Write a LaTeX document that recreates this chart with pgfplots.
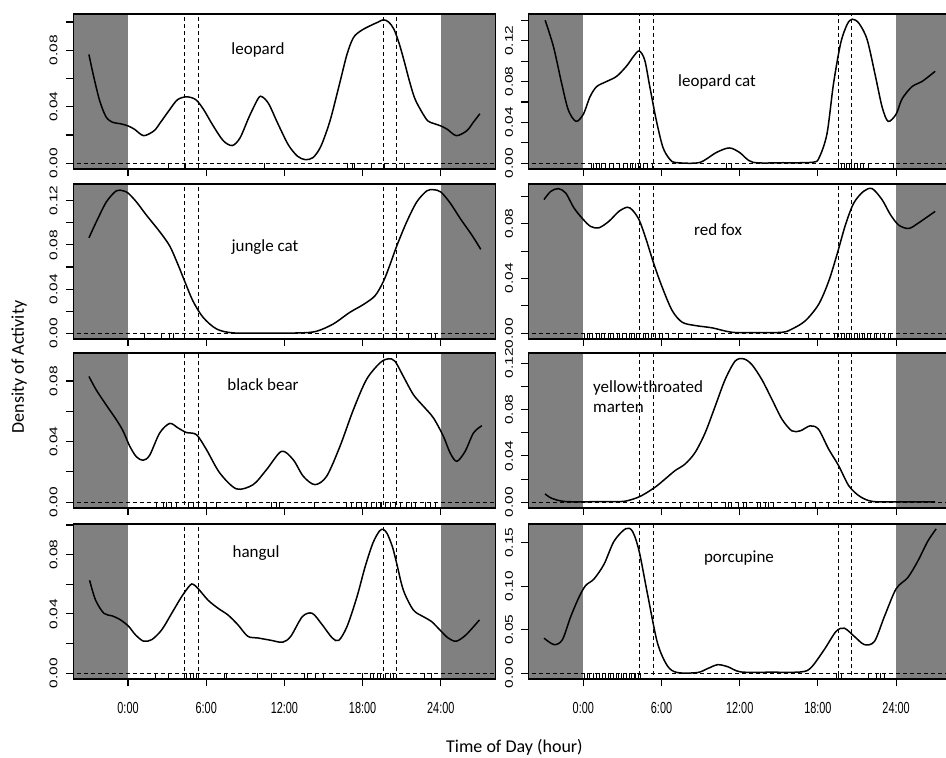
\documentclass[border=0pt]{standalone}
\usepackage{fontspec}
\usepackage{graphicx}
\usepackage{pgfplots}
\pgfplotsset{compat=1.18}
\newfontfamily\tf{Liberation Sans}
\newfontfamily\tfx[FakeStretch=0.68]{Liberation Sans}
\newfontfamily\calib{Carlito}
\definecolor{shade}{RGB}{128,128,128}
\newcommand\yl[1]{\scalebox{1}[0.72]{#1}}

\pgfplotsset{
  panel/.style={
    scale only axis, width=422.2pt, height=155pt,
    anchor=south west,
    xmin=-4.2, xmax=28.2,
    xtick={0,6,12,18,24}, xticklabels={},
    scaled y ticks=false, scaled x ticks=false,
    xtick align=outside, ytick align=outside,
    major tick length=7.5pt, minor tick length=7.5pt,
    xtick pos=bottom, ytick pos=left,
    every major tick/.append style={black, line width=1.1pt},
    every minor tick/.append style={black, line width=1.1pt},
    axis line style={line width=1.3pt},
    axis on top,
    yticklabel style={font=\tf\fontsize{15.5}{16}\selectfont, rotate=90, anchor=south, inner sep=0pt, yshift=8pt},
    xticklabel style={font=\tfx\fontsize{16}{17}\selectfont, inner sep=0pt, anchor=north, yshift=-16pt},
  },
  dens/.style={black, line width=1.5pt, smooth},
  rug/.style={only marks, mark=|, mark size=3pt, mark options={black, line width=0.8pt, yshift=-3pt}},
  vdash/.style={black, line width=1.2pt, dash pattern=on 4pt off 3pt},
}

% shaded night, sunrise/sunset lines, zero line
\newcommand\common{%
  \addplot[fill=shade, draw=none] coordinates {(-5,-1) (0,-1) (0,1) (-5,1)} -- cycle;
  \addplot[fill=shade, draw=none] coordinates {(24,-1) (30,-1) (30,1) (24,1)} -- cycle;
  \addplot[vdash] coordinates {(4.33,-1) (4.33,1)};
  \addplot[vdash] coordinates {(5.4,-1) (5.4,1)};
  \addplot[vdash] coordinates {(19.6,-1) (19.6,1)};
  \addplot[vdash] coordinates {(20.58,-1) (20.58,1)};
  \addplot[vdash] coordinates {(-5,0) (30,0)};
}

\begin{document}
\begin{tikzpicture}
\useasboundingbox (0,0) rectangle (946pt,758pt);
\clip (0,0) rectangle (946pt,758pt);

% ---- leopard
\begin{axis}[panel, at={(73.3pt,589pt)}, ymin=-0.0041, ymax=0.1057,
  ytick={0,0.04,0.08}, minor ytick={0.02,0.06,0.1},
  yticklabels={\yl{0.00},\yl{0.04},\yl{0.08}}]
\common
\addplot[dens] coordinates {
 (-3,0.077) (-2.7,0.064) (-2.2,0.045) (-1.7,0.033) (-1.2,0.029) (-0.6,0.028)
 (0,0.0264) (0.5,0.024) (1.2,0.0195) (2,0.023) (2.5,0.029) (3.2,0.038) (3.8,0.045)
 (4.5,0.047) (5.2,0.045) (5.8,0.038) (6.5,0.027) (7.3,0.016) (8.0,0.0125) (8.6,0.018)
 (9.3,0.033) (10.0,0.046) (10.3,0.047) (10.8,0.042) (11.5,0.028) (12.3,0.013)
 (13.0,0.005) (13.6,0.0025) (14.2,0.004) (14.8,0.012) (15.5,0.030) (16.2,0.055)
 (16.8,0.077) (17.3,0.089) (17.9,0.094) (18.5,0.097) (19.2,0.100) (19.6,0.1016)
 (20.0,0.100) (20.4,0.095) (20.8,0.085) (21.2,0.072) (21.6,0.058) (22.0,0.046)
 (22.5,0.037) (23.0,0.030) (23.5,0.028) (24,0.0264) (24.5,0.024) (25.2,0.0195)
 (26,0.023) (26.5,0.029) (27,0.035)};
\addplot[rug] coordinates {(3.07,0) (4.43,0) (10.43,0) (16.83,0) (17.2,0) (17.34,0)
 (18.7,0) (19.7,0) (21.18,0)};
\end{axis}

% ---- jungle cat
\begin{axis}[panel, at={(73.3pt,419pt)}, ymin=-0.0052, ymax=0.1352,
  ytick={0,0.04,0.08,0.12}, minor ytick={0.02,0.06,0.1},
  yticklabels={\yl{0.00},\yl{0.04},\yl{0.08},\yl{0.12}}]
\common
\addplot[dens] coordinates {
 (-3,0.0864) (-2.43,0.101) (-1.66,0.119) (-0.9,0.129) (-0.38,0.129) (0,0.127)
 (0.64,0.119) (1.41,0.107) (2.43,0.092) (3.2,0.079) (3.84,0.062) (4.35,0.047)
 (4.99,0.029) (5.76,0.0144) (6.79,0.0039) (8.07,0.0003) (10.5,0.0002) (13.2,0.0003)
 (14.47,0.0018) (15.75,0.0084) (17.03,0.019) (18.06,0.026) (18.96,0.034) (19.6,0.047)
 (20.1,0.062) (20.62,0.079) (21.39,0.101) (22.16,0.119) (22.93,0.129) (23.44,0.130)
 (24,0.128) (24.72,0.118) (25.49,0.104) (26.38,0.089) (27.07,0.076)};
\addplot[rug] coordinates {(1.28,0) (2.56,0) (3.2,0) (3.46,0) (20.6,0) (21.5,0) (23.3,0) (23.6,0)};
\end{axis}

% ---- black bear
\begin{axis}[panel, at={(73.3pt,250pt)}, ymin=-0.0038, ymax=0.0985,
  ytick={0,0.04,0.08}, minor ytick={0.02,0.06},
  yticklabels={\yl{0.00},\yl{0.04},\yl{0.08}}]
\common
\addplot[dens] coordinates {
 (-3,0.083) (-2.43,0.074) (-1.66,0.064) (-0.9,0.0545) (-0.38,0.047) (0.13,0.037)
 (0.64,0.030) (1.15,0.0277) (1.66,0.031) (2.43,0.0457) (3.2,0.052) (3.84,0.049)
 (4.48,0.046) (5.25,0.0446) (6.02,0.0347) (7.04,0.0193) (8.32,0.0088) (9.6,0.0116)
 (10.63,0.0215) (11.78,0.0336) (12.68,0.028) (13.45,0.0171) (14.34,0.0116)
 (15.24,0.0171) (16.27,0.037) (17.29,0.061) (18.3,0.081) (19.34,0.092) (19.98,0.0947)
 (20.49,0.093) (21.13,0.083) (21.9,0.071) (22.67,0.0633) (23.44,0.0556) (24.2,0.0435)
 (24.72,0.0325) (25.23,0.027) (25.87,0.0336) (26.51,0.0457) (27.15,0.0505)};
\addplot[rug] coordinates {(2.18,0) (2.69,0) (2.95,0) (3.33,0) (3.71,0) (4.61,0) (4.99,0)
 (5.38,0) (6.02,0) (6.79,0) (9.09,0) (11.01,0) (11.4,0) (11.65,0) (14.34,0) (16.78,0)
 (17.16,0) (17.55,0) (17.93,0) (18.31,0) (18.7,0) (19.08,0) (19.34,0) (19.47,0) (19.72,0)
 (20.11,0) (20.49,0) (20.88,0) (21.39,0) (21.77,0) (22.03,0) (22.8,0) (23.18,0) (23.57,0)};
\end{axis}

% ---- hangul
\begin{axis}[panel, at={(73.3pt,79pt)}, ymin=-0.0039, ymax=0.1007,
  ytick={0,0.04,0.08}, minor ytick={0.02,0.06,0.1},
  yticklabels={\yl{0.00},\yl{0.04},\yl{0.08}},
  xticklabels={0:00,6:00,12:00,18:00,24:00}]
\common
\addplot[dens] coordinates {
 (-2.95,0.0627) (-2.49,0.0493) (-1.85,0.0404) (-1.22,0.0387) (-0.58,0.036) (0.05,0.0316)
 (0.56,0.026) (1.19,0.0216) (1.83,0.0227) (2.59,0.0293) (3.35,0.0404) (4.11,0.0516)
 (4.75,0.0593) (5.0,0.060) (5.38,0.0571) (6.14,0.0493) (6.91,0.0438) (7.67,0.0393)
 (8.43,0.0327) (9.19,0.0249) (9.95,0.0238) (10.97,0.0222) (11.86,0.0209) (12.49,0.0249)
 (13.38,0.0382) (14.14,0.0404) (14.9,0.0327) (15.67,0.0238) (16.18,0.0222) (16.81,0.0316)
 (17.57,0.0516) (18.2,0.072) (18.8,0.088) (19.3,0.096) (19.6,0.097) (19.9,0.094)
 (20.3,0.085) (20.62,0.074) (21.13,0.056) (21.89,0.0427) (22.65,0.0382) (23.29,0.0349)
 (23.92,0.0293) (24.56,0.0238) (25.19,0.0216) (25.95,0.026) (26.97,0.036)};
\addplot[rug] coordinates {(2.08,0) (3.1,0) (4.49,0) (4.75,0) (5.0,0) (5.26,0) (7.41,0)
 (7.54,0) (9.95,0) (10.97,0) (13.51,0) (13.76,0) (14.4,0) (15.03,0) (17.95,0) (18.59,0)
 (18.84,0) (19.1,0) (19.35,0) (19.73,0) (20.11,0) (20.37,0) (22.78,0) (23.29,0)};
\end{axis}

% ---- leopard cat
\begin{axis}[panel, at={(528.6pt,589pt)}, ymin=-0.0056, ymax=0.1461,
  ytick={0,0.04,0.08,0.12}, minor ytick={0.02,0.06,0.1,0.14},
  yticklabels={\yl{0.00},\yl{0.04},\yl{0.08},\yl{0.12}}]
\common
\addplot[dens] coordinates {
 (-2.93,0.140) (-2.29,0.114) (-1.66,0.078) (-1.15,0.052) (-0.56,0.041) (0,0.048)
 (0.51,0.065) (1.02,0.075) (1.78,0.080) (2.55,0.085) (3.31,0.095) (3.82,0.104)
 (4.28,0.110) (4.71,0.101) (5.1,0.075) (5.6,0.042) (6.11,0.0155) (6.63,0.004)
 (7.1,0.0007) (8.9,0.0007) (10.2,0.0105) (11.2,0.015) (12.0,0.0105) (13.0,0.001)
 (15.3,0.0005) (17.6,0.001) (18.1,0.0056) (18.7,0.029) (19.2,0.078) (19.75,0.1176)
 (20.25,0.136) (20.64,0.141) (21.15,0.137) (21.78,0.121) (22.42,0.085) (22.93,0.055)
 (23.39,0.041) (24,0.048) (24.46,0.063) (25.22,0.075) (25.99,0.080) (27.0,0.090)};
\addplot[rug] coordinates {(0.6,0) (0.8,0) (1.0,0) (1.2,0) (1.4,0) (1.7,0) (2.0,0) (2.3,0)
 (2.8,0) (3.1,0) (3.4,0) (3.6,0) (3.8,0) (4.0,0) (4.2,0) (4.4,0) (4.6,0) (4.9,0) (5.3,0)
 (11.0,0) (11.4,0) (19.6,0) (19.8,0) (20.0,0) (20.2,0) (20.4,0) (20.6,0) (20.8,0)
 (21.0,0) (21.3,0) (21.5,0) (21.9,0) (23.8,0)};
\end{axis}

% ---- red fox
\begin{axis}[panel, at={(528.6pt,419pt)}, ymin=-0.0042, ymax=0.109,
  ytick={0,0.04,0.08}, minor ytick={0.02,0.06,0.1},
  yticklabels={\yl{0.00},\yl{0.04},\yl{0.08}}]
\common
\addplot[dens] coordinates {
 (-3.02,0.0976) (-2.5,0.1036) (-1.92,0.1056) (-1.35,0.1024) (-0.72,0.0915) (0,0.083)
 (0.56,0.078) (1.2,0.077) (1.97,0.0818) (2.73,0.089) (3.37,0.092) (3.76,0.090)
 (4.27,0.083) (4.78,0.0697) (5.42,0.0504) (6.06,0.0334) (6.82,0.0165) (7.59,0.008)
 (8.6,0.0056) (9.9,0.0039) (11.4,0.0007) (13.3,0.0004) (15.26,0.0007) (16.0,0.003)
 (17.05,0.0092) (18.07,0.0213) (18.83,0.038) (19.47,0.0576) (20.11,0.079) (20.75,0.095)
 (21.5,0.1036) (22.16,0.1056) (22.92,0.0976) (23.56,0.0867) (24.2,0.079) (24.97,0.0765)
 (25.73,0.0806) (27.0,0.089)};
\addplot[rug] coordinates {(0.1,0) (0.3,0) (0.5,0) (0.7,0) (1.0,0) (1.2,0) (1.4,0) (1.6,0)
 (1.9,0) (2.1,0) (2.3,0) (2.6,0) (2.8,0) (3.0,0) (3.3,0) (3.5,0) (3.7,0) (3.9,0) (4.1,0)
 (4.3,0) (4.6,0) (4.8,0) (5.0,0) (5.2,0) (5.5,0) (5.8,0) (6.1,0) (6.5,0) (7.3,0) (8.3,0)
 (10.1,0) (17.3,0) (18.2,0) (19.3,0) (19.5,0) (19.8,0) (20.0,0) (20.2,0) (20.4,0)
 (20.6,0) (20.8,0) (21.0,0) (21.2,0) (21.4,0) (21.6,0) (21.8,0) (22.0,0) (22.3,0)
 (22.5,0) (22.8,0) (23.1,0) (23.4,0) (23.6,0)};
\end{axis}

% ---- yellow-throated marten
\begin{axis}[panel, at={(528.6pt,250pt)}, ymin=-0.005, ymax=0.129,
  ytick={0,0.04,0.08,0.12}, minor ytick={0.02,0.06,0.1},
  yticklabels={\yl{0.00},\yl{0.04},\yl{0.08},\yl{0.12}}]
\common
\addplot[dens] coordinates {
 (-2.94,0.0072) (-2.43,0.0034) (-1.41,0.0006) (0.8,0.0004) (2.94,0.0006) (3.71,0.0023)
 (4.48,0.0057) (5.5,0.0129) (6.27,0.020) (7.04,0.0273) (7.81,0.033) (8.58,0.043)
 (9.35,0.060) (10.12,0.083) (10.88,0.106) (11.65,0.122) (12.29,0.124) (12.93,0.119)
 (13.7,0.106) (14.47,0.089) (15.24,0.0718) (16.0,0.0617) (16.65,0.0617) (17.41,0.066)
 (18.05,0.063) (18.82,0.046) (19.59,0.0316) (20.36,0.0144) (21.13,0.0057) (21.89,0.0014)
 (22.66,0.0003) (24.8,0.0002) (27.0,0.0003)};
\addplot[rug] coordinates {(7.43,0) (8.83,0) (9.86,0) (10.88,0) (11.14,0) (11.4,0) (11.91,0)
 (12.29,0) (12.55,0) (13.32,0) (13.57,0) (13.96,0) (14.21,0) (14.6,0) (16.26,0) (17.03,0)
 (17.8,0) (18.82,0)};
\end{axis}

% ---- porcupine
\begin{axis}[panel, at={(528.6pt,79pt)}, ymin=-0.0066, ymax=0.1716,
  ytick={0,0.05,0.1,0.15},
  yticklabels={\yl{0.00},\yl{0.05},\yl{0.10},\yl{0.15}},
  xticklabels={0:00,6:00,12:00,18:00,24:00}]
\common
\addplot[dens] coordinates {
 (-3.02,0.0404) (-2.25,0.0329) (-1.61,0.0385) (-0.97,0.065) (-0.33,0.0876) (0.18,0.1009)
 (0.82,0.1084) (1.59,0.1254) (2.36,0.1519) (3.25,0.1662) (3.77,0.1632) (4.28,0.1405)
 (4.92,0.0914) (5.69,0.0348) (6.46,0.0083) (7.22,0.0008) (8.76,0.0008) (9.53,0.0053)
 (10.3,0.0098) (11.07,0.0076) (12.09,0.0015) (14.4,0.0012) (16.7,0.0015) (17.47,0.0064)
 (18.49,0.0272) (19.39,0.048) (20.03,0.0518) (20.8,0.0423) (21.57,0.0329) (22.34,0.0366)
 (23.1,0.065) (24.0,0.097) (24.9,0.110) (25.67,0.129) (26.44,0.152) (27.08,0.166)};
\addplot[rug] coordinates {(0.1,0) (0.3,0) (0.5,0) (0.8,0) (1.0,0) (1.2,0) (1.5,0) (1.7,0)
 (1.9,0) (2.1,0) (2.3,0) (2.5,0) (2.7,0) (2.9,0) (3.1,0) (3.3,0) (3.5,0) (3.7,0) (3.9,0)
 (4.0,0) (4.2,0) (4.4,0) (19.4,0) (19.6,0) (19.8,0) (21.9,0) (22.5,0) (22.8,0) (23.1,0)};
\end{axis}

% panel names and axis titles
\tikzset{lab/.style={font=\calib\fontsize{17}{20}\selectfont, inner sep=0pt}}
\node[lab, anchor=base] at (258pt,703pt) {leopard};
\node[lab, anchor=base] at (265pt,506pt) {jungle cat};
\node[lab, anchor=base] at (263pt,367pt) {black bear};
\node[lab, anchor=base] at (256pt,200pt) {hangul};
\node[lab, anchor=base] at (717pt,671pt) {leopard cat};
\node[lab, anchor=base] at (718pt,522pt) {red fox};
\node[lab, anchor=base west] at (593pt,365pt) {yellow-throated};
\node[lab, anchor=base west] at (593pt,345pt) {marten};
\node[lab, anchor=base] at (739pt,195pt) {porcupine};
\node[font=\calib\fontsize{18}{20}\selectfont, inner sep=0pt, anchor=base west] at (446pt,5pt) {Time of Day (hour)};
\node[font=\calib\fontsize{18}{20}\selectfont, inner sep=0pt, rotate=90] at (19pt,391pt) {Density of Activity};
\end{tikzpicture}
\end{document}
